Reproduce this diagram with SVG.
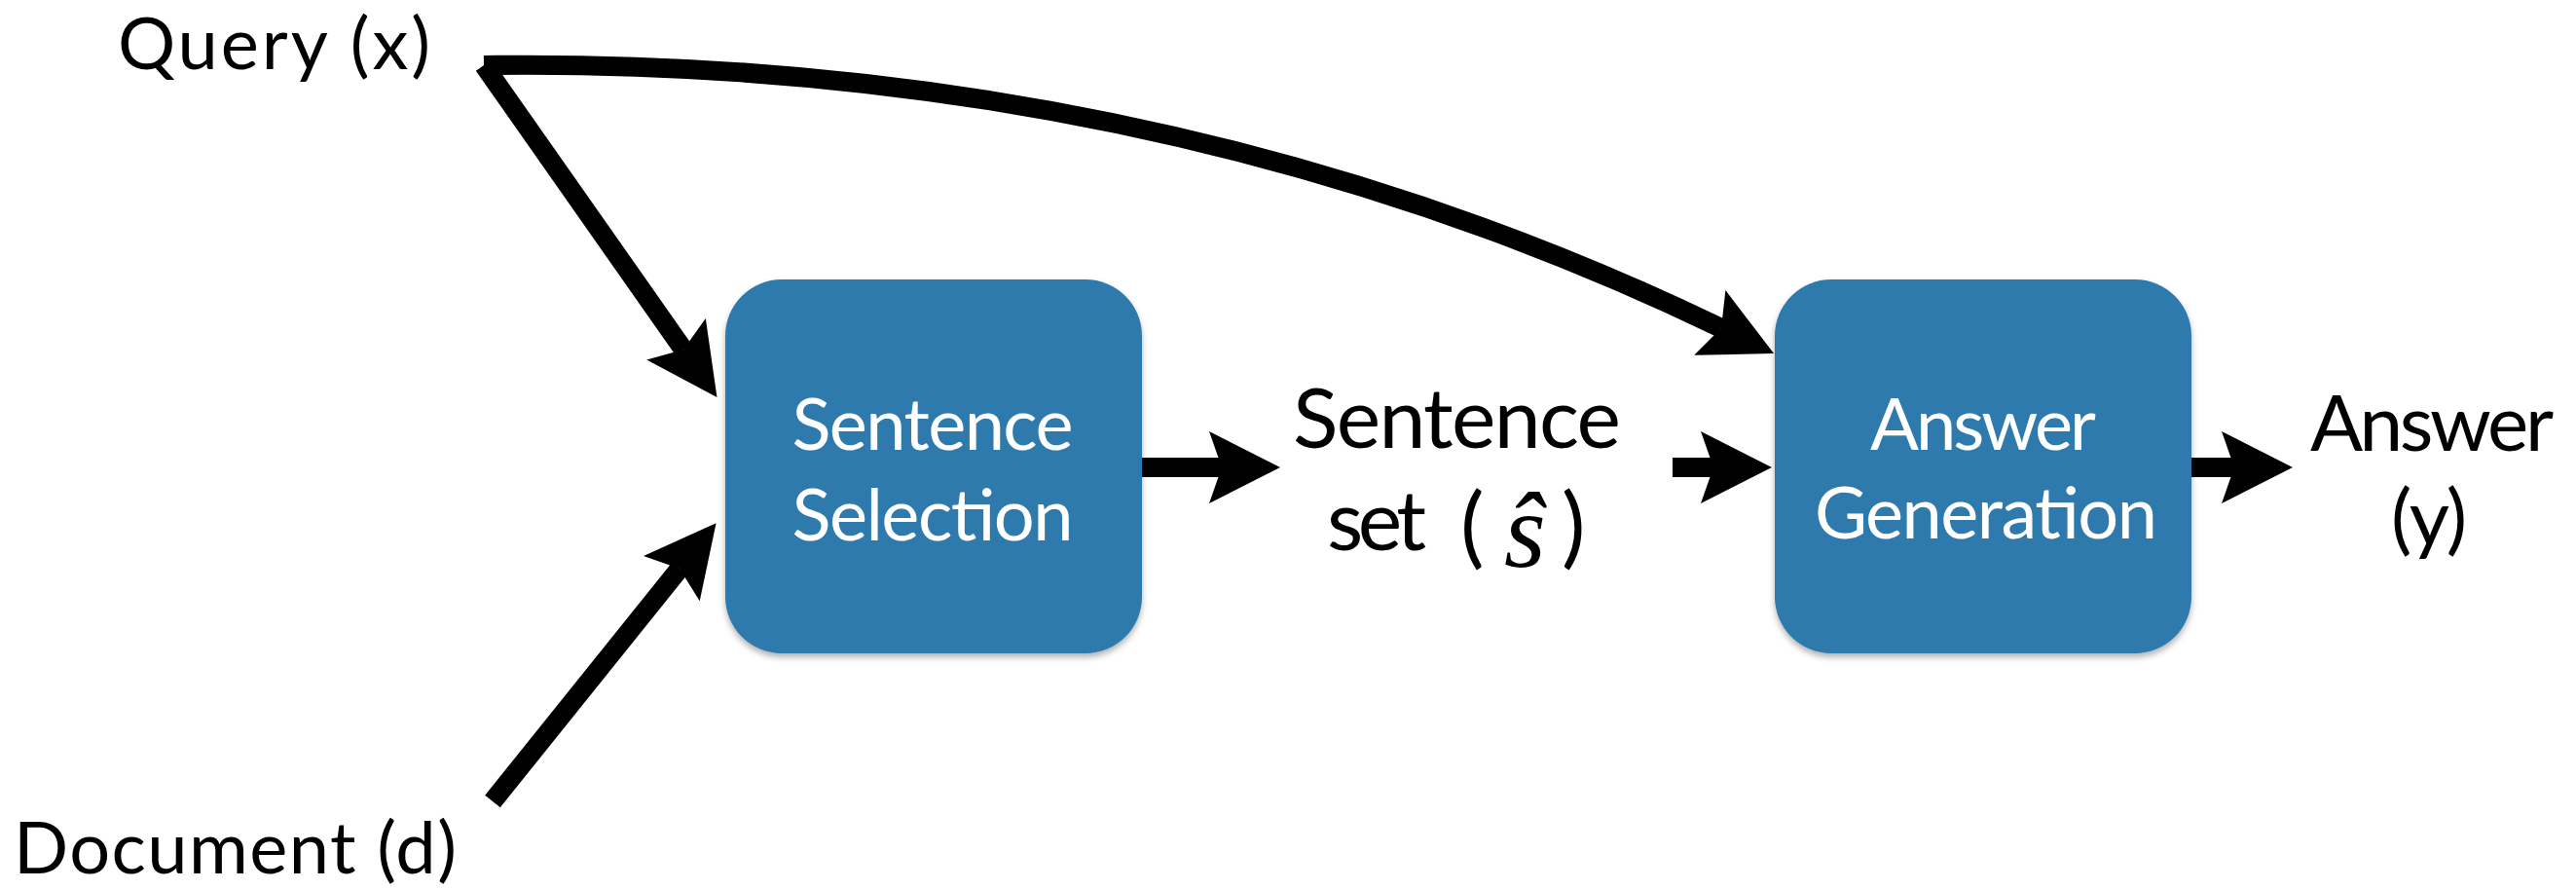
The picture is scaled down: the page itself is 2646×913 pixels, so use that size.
<svg xmlns="http://www.w3.org/2000/svg" width="2646" height="913" viewBox="0 0 2646 913">
  <style>
    .lbl { font-family: Lato, "Open Sans", "Liberation Sans", sans-serif; font-size: 74px; fill: #000; }
    .big { font-size: 86px; }
    .ans { font-size: 80px; }
    .paren { font-size: 92px; }
    .box { fill: #2d7aad; filter: url(#shadow); }
    .boxtxt { font-family: Lato, "Open Sans", "Liberation Sans", sans-serif; font-size: 74px; fill: #fff; text-anchor: middle; }
    .edge { fill: none; stroke: #000; stroke-width: 20; marker-end: url(#arrow); }
    .math { font-family: "Liberation Serif", "DejaVu Serif", serif; font-style: italic; font-size: 110px; fill: #000; }
  </style>
  <defs>
    <filter id="shadow" x="-10%" y="-10%" width="120%" height="125%">
      <feDropShadow dx="0" dy="4" stdDeviation="3" flood-color="#000" flood-opacity="0.3"/>
    </filter>
    <marker id="arrow" markerUnits="userSpaceOnUse" orient="auto" refX="0" refY="0" markerWidth="10" markerHeight="10" overflow="visible">
      <path d="M60,0 L-13,-37 L0,0 L-13,37 Z" fill="#000"/>
    </marker>
  </defs>

  <g id="connectors">
    <path id="e-query-ss" class="edge" d="M497,67 L702,359"/>
    <path id="e-doc-ss" class="edge" d="M506,823 L698,584"/>
    <path id="e-query-ag" class="edge" d="M497,67 Q1190,58 1768,337"/>
    <path id="e-ss-set" class="edge" d="M1172,480 L1255,480"/>
    <path id="e-set-ag" class="edge" d="M1718,480 L1760,480"/>
    <path id="e-ag-ans" class="edge" d="M2250,480 L2295,480"/>
  </g>

  <g id="query">
    <text class="lbl" x="121" y="71" textLength="321">Query (x)</text>
  </g>
  <g id="document">
    <text class="lbl" x="14" y="897" textLength="455">Document (d)</text>
  </g>

  <g id="sentence-selection">
    <rect class="box" x="745" y="287" width="428" height="384" rx="58" ry="58"/>
    <text class="boxtxt" x="958" y="462" textLength="289">Sentence</text>
    <text class="boxtxt" x="958" y="555" textLength="289">Selection</text>
  </g>

  <g id="sentence-set">
    <text class="lbl big" x="1328" y="460" textLength="337">Sentence</text>
    <text class="lbl big" x="1363" y="565" textLength="102">set</text>
    <text class="lbl paren" x="1500" y="572">(</text>
    <text class="math" x="1545" y="582">ŝ</text>
    <text class="lbl paren" x="1604" y="572">)</text>
  </g>

  <g id="answer-generation">
    <rect class="box" x="1823" y="287" width="428" height="384" rx="58" ry="58"/>
    <text class="boxtxt" x="2037" y="462" textLength="232">Answer</text>
    <text class="boxtxt" x="2040" y="553" textLength="352">Generation</text>
  </g>

  <g id="answer">
    <text class="lbl ans" x="2373" y="463" textLength="250">Answer</text>
    <text class="lbl ans" x="2456" y="560" textLength="78">(y)</text>
  </g>
</svg>
